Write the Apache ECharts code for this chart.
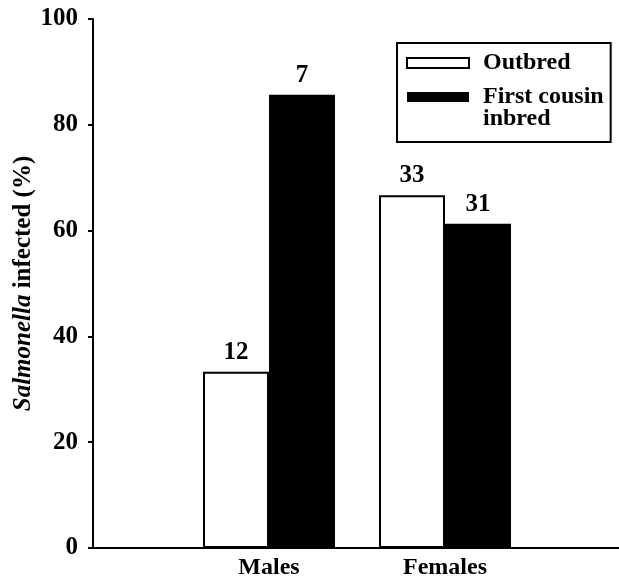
<!DOCTYPE html>
<html>
<head>
<meta charset="utf-8">
<script src="https://cdn.jsdelivr.net/npm/echarts@6/dist/echarts.min.js"></script>
<style>html,body{margin:0;padding:0;background:#fff}#c{width:619px;height:579px}</style>
</head>
<body>
<div id="c"></div>
<script>
// ---- data ----
var categories = ['Males', 'Females'];
var outbredPct = [33.3, 66.7];
var inbredPct = [85.7, 61.3];
var outbredN = [12, 33];
var inbredN = [7, 31];
var yTicks = [0, 20, 40, 60, 80, 100];
var seriesNames = ['Outbred', 'First cousin\ninbred'];

// padded category axis (empty slot at origin and end)
var axisCats = [''].concat(categories, ['']);
function pad(arr) { return [null].concat(arr, [null]); }

var FONT = '"Liberation Serif", "Times New Roman", serif';
var chart = echarts.init(document.getElementById('c'));
var labelStyle = function (nArr) {
  return {
    show: true, position: 'top', distance: 7,
    fontFamily: FONT, fontWeight: 'bold', fontSize: 25, color: '#000',
    formatter: function (p) { var v = pad(nArr)[p.dataIndex]; return v == null ? '' : String(v); }
  };
};
var legTxt = { fontFamily: FONT, fontWeight: 'bold', fontSize: 24, color: '#000', lineHeight: 22, padding: [0, 0, 0, 9] };
chart.setOption({
  animation: false,
  backgroundColor: '#fff',
  grid: { left: 93, top: 19, width: 528, height: 529, containLabel: false, outerBoundsMode: 'none' },
  legend: {
    orient: 'vertical', left: 397, top: 43,
    padding: [8, 7, 11, 9], itemGap: -12,
    borderColor: '#000', borderWidth: 2,
    itemWidth: 62, itemHeight: 10, icon: 'rect',
    formatter: function (name) {
      var lines = name.split('\n').map(function (s) { return '{t|' + s + '}'; });
      if (lines.length > 1) lines.unshift('{t| }');
      return lines.join('\n');
    },
    textStyle: { fontFamily: FONT, fontWeight: 'bold', fontSize: 24, color: '#000', lineHeight: 22, rich: { t: legTxt } },
    data: seriesNames
  },
  xAxis: {
    type: 'category', data: axisCats, boundaryGap: false,
    axisLine: { lineStyle: { color: '#000', width: 2 } },
    axisTick: { show: false },
    axisLabel: { interval: 0, margin: 8, fontFamily: FONT, fontWeight: 'bold', fontSize: 24, color: '#000' },
    splitLine: { show: false }
  },
  yAxis: {
    type: 'value', min: yTicks[0], max: yTicks[yTicks.length - 1], interval: yTicks[1] - yTicks[0],
    axisLine: { show: true, lineStyle: { color: '#000', width: 2 } },
    axisTick: { show: true, length: 5, lineStyle: { color: '#000', width: 2 } },
    axisLabel: { margin: 15, fontFamily: FONT, fontWeight: 'bold', fontSize: 25, color: '#000' },
    splitLine: { show: false },
    name: '{i|Salmonella} {n|infected (%)}',
    nameLocation: 'middle', nameGap: 57, nameRotate: 90, nameMoveOverlap: false,
    nameTextStyle: {
      fontFamily: FONT, fontWeight: 'bold', fontSize: 25, color: '#000',
      rich: {
        i: { fontFamily: FONT, fontWeight: 'bold', fontStyle: 'italic', fontSize: 25, color: '#000' },
        n: { fontFamily: FONT, fontWeight: 'bold', fontSize: 25, color: '#000' }
      }
    }
  },
  series: [
    {
      name: seriesNames[0], type: 'bar', data: pad(outbredPct),
      barWidth: 66, barGap: '0%',
      itemStyle: { color: '#fff', borderColor: '#000', borderWidth: 2 },
      label: labelStyle(outbredN)
    },
    {
      name: seriesNames[1], type: 'bar', data: pad(inbredPct),
      barWidth: 66, barGap: '0%',
      itemStyle: { color: '#000', borderColor: '#000', borderWidth: 0 },
      label: labelStyle(inbredN)
    }
  ]
});
</script>
</body>
</html>
